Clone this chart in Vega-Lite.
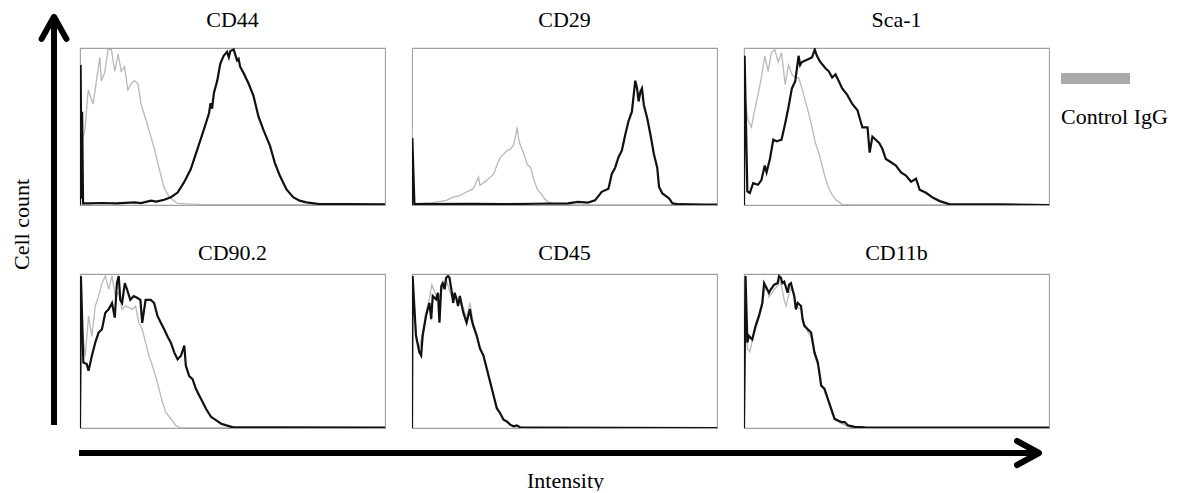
{
"$schema": "https://vega.github.io/schema/vega-lite/v6.json",
"background": "white",
"padding": {"left": 10, "top": 7, "right": 0, "bottom": 0},
"config": {
  "view": {"stroke": "#a0a0a0", "strokeWidth": 1.1},
  "font": "Liberation Serif",
  "title": {"font": "Liberation Serif", "fontSize": 22, "fontWeight": "normal", "color": "#000", "baseline": "alphabetic", "anchor": "middle"},
  "axis": {"titleFont": "Liberation Serif", "titleFontSize": 22, "titleFontWeight": "normal", "titleColor": "#000"}
},
"datasets": {
"hist": [
{"p":"CD44","s":"ctrl","x":0,"y":0},{"p":"CD44","s":"ctrl","x":0.5,"y":40},{"p":"CD44","s":"ctrl","x":1.6,"y":48},{"p":"CD44","s":"ctrl","x":2.7,"y":74},{"p":"CD44","s":"ctrl","x":4.3,"y":65},{"p":"CD44","s":"ctrl","x":5.4,"y":80},{"p":"CD44","s":"ctrl","x":6.5,"y":95},{"p":"CD44","s":"ctrl","x":7.0,"y":80},{"p":"CD44","s":"ctrl","x":8.1,"y":85},{"p":"CD44","s":"ctrl","x":9.2,"y":100},{"p":"CD44","s":"ctrl","x":10.3,"y":100},{"p":"CD44","s":"ctrl","x":11.4,"y":86},{"p":"CD44","s":"ctrl","x":12.5,"y":97},{"p":"CD44","s":"ctrl","x":13.5,"y":86},{"p":"CD44","s":"ctrl","x":14.6,"y":89},{"p":"CD44","s":"ctrl","x":15.7,"y":74},{"p":"CD44","s":"ctrl","x":16.8,"y":78},{"p":"CD44","s":"ctrl","x":17.9,"y":80},{"p":"CD44","s":"ctrl","x":19.0,"y":78},{"p":"CD44","s":"ctrl","x":20.0,"y":65},{"p":"CD44","s":"ctrl","x":22.2,"y":51},{"p":"CD44","s":"ctrl","x":24.4,"y":36},{"p":"CD44","s":"ctrl","x":26.0,"y":23},{"p":"CD44","s":"ctrl","x":27.6,"y":11},{"p":"CD44","s":"ctrl","x":29.3,"y":5},{"p":"CD44","s":"ctrl","x":32.0,"y":1},{"p":"CD44","s":"ctrl","x":40,"y":0.3},{"p":"CD44","s":"ctrl","x":60,"y":0.2},{"p":"CD44","s":"ctrl","x":100,"y":0.2},
{"p":"CD44","s":"ab","x":0,"y":0},{"p":"CD44","s":"ab","x":0.2,"y":90},{"p":"CD44","s":"ab","x":0.5,"y":4},{"p":"CD44","s":"ab","x":0.7,"y":60},{"p":"CD44","s":"ab","x":1.0,"y":1},{"p":"CD44","s":"ab","x":3,"y":1},{"p":"CD44","s":"ab","x":7.0,"y":1.3},{"p":"CD44","s":"ab","x":12,"y":1.0},{"p":"CD44","s":"ab","x":17.9,"y":1.7},{"p":"CD44","s":"ab","x":20,"y":1.2},{"p":"CD44","s":"ab","x":23.3,"y":2.8},{"p":"CD44","s":"ab","x":25,"y":2.2},{"p":"CD44","s":"ab","x":27.6,"y":3.4},{"p":"CD44","s":"ab","x":29.8,"y":5},{"p":"CD44","s":"ab","x":32.0,"y":8},{"p":"CD44","s":"ab","x":34.1,"y":14.5},{"p":"CD44","s":"ab","x":36.3,"y":23},{"p":"CD44","s":"ab","x":38.5,"y":36},{"p":"CD44","s":"ab","x":40.6,"y":48.5},{"p":"CD44","s":"ab","x":42.3,"y":59},{"p":"CD44","s":"ab","x":42.8,"y":65.5},{"p":"CD44","s":"ab","x":43.3,"y":62},{"p":"CD44","s":"ab","x":43.9,"y":72},{"p":"CD44","s":"ab","x":45.0,"y":80},{"p":"CD44","s":"ab","x":46.0,"y":91},{"p":"CD44","s":"ab","x":47.1,"y":96},{"p":"CD44","s":"ab","x":48.2,"y":98.5},{"p":"CD44","s":"ab","x":48.8,"y":95},{"p":"CD44","s":"ab","x":49.3,"y":99},{"p":"CD44","s":"ab","x":50.4,"y":100},{"p":"CD44","s":"ab","x":51.5,"y":93},{"p":"CD44","s":"ab","x":52.0,"y":94},{"p":"CD44","s":"ab","x":52.5,"y":89},{"p":"CD44","s":"ab","x":53.6,"y":85},{"p":"CD44","s":"ab","x":55.3,"y":78},{"p":"CD44","s":"ab","x":56.9,"y":70},{"p":"CD44","s":"ab","x":58.5,"y":57},{"p":"CD44","s":"ab","x":60.1,"y":48.5},{"p":"CD44","s":"ab","x":62.3,"y":38},{"p":"CD44","s":"ab","x":63.9,"y":27},{"p":"CD44","s":"ab","x":65.5,"y":19},{"p":"CD44","s":"ab","x":67.7,"y":10},{"p":"CD44","s":"ab","x":69.9,"y":5},{"p":"CD44","s":"ab","x":72.0,"y":2.8},{"p":"CD44","s":"ab","x":74.2,"y":1.7},{"p":"CD44","s":"ab","x":78.5,"y":0.6},{"p":"CD44","s":"ab","x":88.3,"y":0.5},{"p":"CD44","s":"ab","x":100,"y":0.4},
{"p":"CD29","s":"ctrl","x":0,"y":0},{"p":"CD29","s":"ctrl","x":0.1,"y":50},{"p":"CD29","s":"ctrl","x":0.4,"y":1},{"p":"CD29","s":"ctrl","x":2.4,"y":1},{"p":"CD29","s":"ctrl","x":6.9,"y":1.5},{"p":"CD29","s":"ctrl","x":11.3,"y":3},{"p":"CD29","s":"ctrl","x":13.5,"y":5},{"p":"CD29","s":"ctrl","x":15.7,"y":6},{"p":"CD29","s":"ctrl","x":17.9,"y":8.5},{"p":"CD29","s":"ctrl","x":20.1,"y":10.5},{"p":"CD29","s":"ctrl","x":21.8,"y":18},{"p":"CD29","s":"ctrl","x":22.3,"y":12.7},{"p":"CD29","s":"ctrl","x":24.6,"y":16},{"p":"CD29","s":"ctrl","x":26.8,"y":20},{"p":"CD29","s":"ctrl","x":27.9,"y":26},{"p":"CD29","s":"ctrl","x":29.0,"y":30.7},{"p":"CD29","s":"ctrl","x":30.1,"y":32.8},{"p":"CD29","s":"ctrl","x":31.2,"y":35},{"p":"CD29","s":"ctrl","x":32.3,"y":36},{"p":"CD29","s":"ctrl","x":33.4,"y":39},{"p":"CD29","s":"ctrl","x":34.5,"y":50},{"p":"CD29","s":"ctrl","x":35.1,"y":41},{"p":"CD29","s":"ctrl","x":35.6,"y":38},{"p":"CD29","s":"ctrl","x":36.7,"y":32.8},{"p":"CD29","s":"ctrl","x":37.8,"y":26},{"p":"CD29","s":"ctrl","x":38.9,"y":24},{"p":"CD29","s":"ctrl","x":40.0,"y":16},{"p":"CD29","s":"ctrl","x":41.2,"y":9.5},{"p":"CD29","s":"ctrl","x":42.3,"y":7.4},{"p":"CD29","s":"ctrl","x":43.4,"y":4.2},{"p":"CD29","s":"ctrl","x":44.5,"y":2},{"p":"CD29","s":"ctrl","x":46.7,"y":0.6},{"p":"CD29","s":"ctrl","x":51.1,"y":0.2},{"p":"CD29","s":"ctrl","x":100,"y":0.1},
{"p":"CD29","s":"ab","x":0,"y":0},{"p":"CD29","s":"ab","x":0.1,"y":43},{"p":"CD29","s":"ab","x":0.8,"y":0.5},{"p":"CD29","s":"ab","x":20,"y":0.8},{"p":"CD29","s":"ab","x":30,"y":0.5},{"p":"CD29","s":"ab","x":40,"y":0.8},{"p":"CD29","s":"ab","x":51.1,"y":1},{"p":"CD29","s":"ab","x":54.4,"y":2},{"p":"CD29","s":"ab","x":57.7,"y":1.5},{"p":"CD29","s":"ab","x":60.0,"y":3},{"p":"CD29","s":"ab","x":62.2,"y":8.5},{"p":"CD29","s":"ab","x":64.4,"y":10.5},{"p":"CD29","s":"ab","x":65.5,"y":20},{"p":"CD29","s":"ab","x":66.6,"y":24},{"p":"CD29","s":"ab","x":67.7,"y":30.7},{"p":"CD29","s":"ab","x":68.8,"y":35},{"p":"CD29","s":"ab","x":69.9,"y":45},{"p":"CD29","s":"ab","x":71.0,"y":54},{"p":"CD29","s":"ab","x":72.1,"y":60},{"p":"CD29","s":"ab","x":72.7,"y":71},{"p":"CD29","s":"ab","x":73.2,"y":80},{"p":"CD29","s":"ab","x":73.8,"y":75},{"p":"CD29","s":"ab","x":74.3,"y":66.6},{"p":"CD29","s":"ab","x":74.9,"y":73},{"p":"CD29","s":"ab","x":75.4,"y":75},{"p":"CD29","s":"ab","x":76.0,"y":64.5},{"p":"CD29","s":"ab","x":77.1,"y":56},{"p":"CD29","s":"ab","x":78.2,"y":45},{"p":"CD29","s":"ab","x":79.3,"y":32.8},{"p":"CD29","s":"ab","x":80.4,"y":24},{"p":"CD29","s":"ab","x":81.0,"y":11.6},{"p":"CD29","s":"ab","x":82.1,"y":7.4},{"p":"CD29","s":"ab","x":84.3,"y":4.2},{"p":"CD29","s":"ab","x":85.4,"y":1},{"p":"CD29","s":"ab","x":87.6,"y":0.5},{"p":"CD29","s":"ab","x":95.4,"y":0.3},{"p":"CD29","s":"ab","x":100,"y":0.2},
{"p":"Sca-1","s":"ctrl","x":0,"y":0},{"p":"Sca-1","s":"ctrl","x":0.2,"y":71},{"p":"Sca-1","s":"ctrl","x":1.3,"y":54.6},{"p":"Sca-1","s":"ctrl","x":2.4,"y":50},{"p":"Sca-1","s":"ctrl","x":3.5,"y":61},{"p":"Sca-1","s":"ctrl","x":4.6,"y":71},{"p":"Sca-1","s":"ctrl","x":5.7,"y":82},{"p":"Sca-1","s":"ctrl","x":6.8,"y":96},{"p":"Sca-1","s":"ctrl","x":7.9,"y":86},{"p":"Sca-1","s":"ctrl","x":9.0,"y":98},{"p":"Sca-1","s":"ctrl","x":10.1,"y":100},{"p":"Sca-1","s":"ctrl","x":11.2,"y":92},{"p":"Sca-1","s":"ctrl","x":12.3,"y":98},{"p":"Sca-1","s":"ctrl","x":13.5,"y":77.5},{"p":"Sca-1","s":"ctrl","x":14.6,"y":90},{"p":"Sca-1","s":"ctrl","x":15.7,"y":84},{"p":"Sca-1","s":"ctrl","x":16.8,"y":82},{"p":"Sca-1","s":"ctrl","x":17.9,"y":82},{"p":"Sca-1","s":"ctrl","x":19.0,"y":75},{"p":"Sca-1","s":"ctrl","x":20.1,"y":67},{"p":"Sca-1","s":"ctrl","x":21.2,"y":59},{"p":"Sca-1","s":"ctrl","x":22.3,"y":50},{"p":"Sca-1","s":"ctrl","x":23.4,"y":40},{"p":"Sca-1","s":"ctrl","x":24.5,"y":33.75},{"p":"Sca-1","s":"ctrl","x":25.6,"y":25.4},{"p":"Sca-1","s":"ctrl","x":26.7,"y":17},{"p":"Sca-1","s":"ctrl","x":27.8,"y":10.8},{"p":"Sca-1","s":"ctrl","x":28.9,"y":6.7},{"p":"Sca-1","s":"ctrl","x":30.0,"y":3.5},{"p":"Sca-1","s":"ctrl","x":32.2,"y":0.4},{"p":"Sca-1","s":"ctrl","x":35.5,"y":0},{"p":"Sca-1","s":"ctrl","x":100,"y":0},
{"p":"Sca-1","s":"ab","x":0,"y":0},{"p":"Sca-1","s":"ab","x":0.2,"y":96},{"p":"Sca-1","s":"ab","x":1.1,"y":8.75},{"p":"Sca-1","s":"ab","x":1.9,"y":7.7},{"p":"Sca-1","s":"ab","x":3.0,"y":14},{"p":"Sca-1","s":"ab","x":4.6,"y":13},{"p":"Sca-1","s":"ab","x":5.7,"y":16},{"p":"Sca-1","s":"ab","x":6.8,"y":25.4},{"p":"Sca-1","s":"ab","x":7.4,"y":21},{"p":"Sca-1","s":"ab","x":8.5,"y":29.6},{"p":"Sca-1","s":"ab","x":9.6,"y":42},{"p":"Sca-1","s":"ab","x":10.7,"y":41},{"p":"Sca-1","s":"ab","x":12.3,"y":42},{"p":"Sca-1","s":"ab","x":13.5,"y":52.5},{"p":"Sca-1","s":"ab","x":14.6,"y":63},{"p":"Sca-1","s":"ab","x":15.7,"y":75},{"p":"Sca-1","s":"ab","x":16.8,"y":79.6},{"p":"Sca-1","s":"ab","x":17.9,"y":96},{"p":"Sca-1","s":"ab","x":18.4,"y":90},{"p":"Sca-1","s":"ab","x":19.0,"y":92},{"p":"Sca-1","s":"ab","x":20.1,"y":93},{"p":"Sca-1","s":"ab","x":21.2,"y":94},{"p":"Sca-1","s":"ab","x":22.3,"y":95},{"p":"Sca-1","s":"ab","x":23.2,"y":100},{"p":"Sca-1","s":"ab","x":23.9,"y":96},{"p":"Sca-1","s":"ab","x":25.0,"y":92},{"p":"Sca-1","s":"ab","x":26.7,"y":88},{"p":"Sca-1","s":"ab","x":27.8,"y":86},{"p":"Sca-1","s":"ab","x":28.9,"y":82},{"p":"Sca-1","s":"ab","x":30.0,"y":84},{"p":"Sca-1","s":"ab","x":31.1,"y":79.6},{"p":"Sca-1","s":"ab","x":32.2,"y":75},{"p":"Sca-1","s":"ab","x":33.8,"y":71},{"p":"Sca-1","s":"ab","x":35.5,"y":65},{"p":"Sca-1","s":"ab","x":37.2,"y":61},{"p":"Sca-1","s":"ab","x":38.8,"y":50},{"p":"Sca-1","s":"ab","x":40.5,"y":50},{"p":"Sca-1","s":"ab","x":41.2,"y":33.75},{"p":"Sca-1","s":"ab","x":42.1,"y":44},{"p":"Sca-1","s":"ab","x":43.2,"y":42},{"p":"Sca-1","s":"ab","x":44.3,"y":40},{"p":"Sca-1","s":"ab","x":45.4,"y":36},{"p":"Sca-1","s":"ab","x":46.5,"y":29.6},{"p":"Sca-1","s":"ab","x":48.2,"y":27.5},{"p":"Sca-1","s":"ab","x":49.8,"y":25.4},{"p":"Sca-1","s":"ab","x":51.5,"y":21},{"p":"Sca-1","s":"ab","x":53.1,"y":19},{"p":"Sca-1","s":"ab","x":54.8,"y":15},{"p":"Sca-1","s":"ab","x":56.4,"y":17},{"p":"Sca-1","s":"ab","x":57.6,"y":9.8},{"p":"Sca-1","s":"ab","x":59.8,"y":7.7},{"p":"Sca-1","s":"ab","x":62.0,"y":4.6},{"p":"Sca-1","s":"ab","x":64.2,"y":2.5},{"p":"Sca-1","s":"ab","x":67.5,"y":0.4},{"p":"Sca-1","s":"ab","x":73.0,"y":0.4},{"p":"Sca-1","s":"ab","x":84.0,"y":0.4},{"p":"Sca-1","s":"ab","x":100,"y":0},
{"p":"CD90.2","s":"ctrl","x":0,"y":0},{"p":"CD90.2","s":"ctrl","x":0.6,"y":69},{"p":"CD90.2","s":"ctrl","x":1.7,"y":47},{"p":"CD90.2","s":"ctrl","x":2.8,"y":73.5},{"p":"CD90.2","s":"ctrl","x":3.9,"y":60},{"p":"CD90.2","s":"ctrl","x":5.0,"y":80},{"p":"CD90.2","s":"ctrl","x":6.1,"y":86.5},{"p":"CD90.2","s":"ctrl","x":7.2,"y":95},{"p":"CD90.2","s":"ctrl","x":8.3,"y":99.6},{"p":"CD90.2","s":"ctrl","x":9.4,"y":91},{"p":"CD90.2","s":"ctrl","x":10.5,"y":99.6},{"p":"CD90.2","s":"ctrl","x":11.6,"y":86.5},{"p":"CD90.2","s":"ctrl","x":12.7,"y":88.7},{"p":"CD90.2","s":"ctrl","x":13.8,"y":77.8},{"p":"CD90.2","s":"ctrl","x":14.9,"y":80},{"p":"CD90.2","s":"ctrl","x":16.0,"y":79},{"p":"CD90.2","s":"ctrl","x":17.1,"y":77.8},{"p":"CD90.2","s":"ctrl","x":18.2,"y":80},{"p":"CD90.2","s":"ctrl","x":19.3,"y":69},{"p":"CD90.2","s":"ctrl","x":20.4,"y":64.8},{"p":"CD90.2","s":"ctrl","x":21.5,"y":56},{"p":"CD90.2","s":"ctrl","x":22.6,"y":47.4},{"p":"CD90.2","s":"ctrl","x":23.7,"y":41},{"p":"CD90.2","s":"ctrl","x":24.8,"y":34},{"p":"CD90.2","s":"ctrl","x":25.9,"y":25.7},{"p":"CD90.2","s":"ctrl","x":27.0,"y":17},{"p":"CD90.2","s":"ctrl","x":28.1,"y":10.4},{"p":"CD90.2","s":"ctrl","x":29.8,"y":6},{"p":"CD90.2","s":"ctrl","x":31.4,"y":1.7},{"p":"CD90.2","s":"ctrl","x":33.1,"y":0},{"p":"CD90.2","s":"ctrl","x":100,"y":0},
{"p":"CD90.2","s":"ab","x":0,"y":0},{"p":"CD90.2","s":"ab","x":0.3,"y":99.6},{"p":"CD90.2","s":"ab","x":1.1,"y":43},{"p":"CD90.2","s":"ab","x":2.2,"y":42},{"p":"CD90.2","s":"ab","x":2.8,"y":37.6},{"p":"CD90.2","s":"ab","x":3.9,"y":47.4},{"p":"CD90.2","s":"ab","x":5.0,"y":56},{"p":"CD90.2","s":"ab","x":6.1,"y":62.6},{"p":"CD90.2","s":"ab","x":7.2,"y":64.8},{"p":"CD90.2","s":"ab","x":8.3,"y":75.6},{"p":"CD90.2","s":"ab","x":9.4,"y":77.8},{"p":"CD90.2","s":"ab","x":10.5,"y":82},{"p":"CD90.2","s":"ab","x":11.4,"y":72.4},{"p":"CD90.2","s":"ab","x":12.1,"y":95},{"p":"CD90.2","s":"ab","x":12.7,"y":99.6},{"p":"CD90.2","s":"ab","x":13.2,"y":84},{"p":"CD90.2","s":"ab","x":13.8,"y":82},{"p":"CD90.2","s":"ab","x":14.7,"y":95},{"p":"CD90.2","s":"ab","x":15.4,"y":91},{"p":"CD90.2","s":"ab","x":16.5,"y":84},{"p":"CD90.2","s":"ab","x":17.6,"y":86.5},{"p":"CD90.2","s":"ab","x":18.7,"y":85.4},{"p":"CD90.2","s":"ab","x":19.8,"y":84},{"p":"CD90.2","s":"ab","x":20.4,"y":69},{"p":"CD90.2","s":"ab","x":21.5,"y":84},{"p":"CD90.2","s":"ab","x":23.2,"y":84},{"p":"CD90.2","s":"ab","x":24.3,"y":82},{"p":"CD90.2","s":"ab","x":25.4,"y":73.5},{"p":"CD90.2","s":"ab","x":26.5,"y":69},{"p":"CD90.2","s":"ab","x":27.6,"y":64.8},{"p":"CD90.2","s":"ab","x":28.7,"y":60},{"p":"CD90.2","s":"ab","x":29.8,"y":56},{"p":"CD90.2","s":"ab","x":30.9,"y":49.6},{"p":"CD90.2","s":"ab","x":32.0,"y":45},{"p":"CD90.2","s":"ab","x":33.1,"y":47.4},{"p":"CD90.2","s":"ab","x":34.2,"y":54},{"p":"CD90.2","s":"ab","x":34.7,"y":41},{"p":"CD90.2","s":"ab","x":35.8,"y":34},{"p":"CD90.2","s":"ab","x":36.9,"y":32},{"p":"CD90.2","s":"ab","x":38.0,"y":25.7},{"p":"CD90.2","s":"ab","x":39.1,"y":21.3},{"p":"CD90.2","s":"ab","x":40.2,"y":17},{"p":"CD90.2","s":"ab","x":41.3,"y":12.6},{"p":"CD90.2","s":"ab","x":43.0,"y":7.2},{"p":"CD90.2","s":"ab","x":44.7,"y":5},{"p":"CD90.2","s":"ab","x":46.3,"y":2.8},{"p":"CD90.2","s":"ab","x":48.0,"y":1.7},{"p":"CD90.2","s":"ab","x":50.2,"y":0.4},{"p":"CD90.2","s":"ab","x":61.2,"y":0.4},{"p":"CD90.2","s":"ab","x":100,"y":0.2},
{"p":"CD45","s":"ctrl","x":0,"y":0},{"p":"CD45","s":"ctrl","x":0.2,"y":99},{"p":"CD45","s":"ctrl","x":1.3,"y":62},{"p":"CD45","s":"ctrl","x":2.4,"y":52},{"p":"CD45","s":"ctrl","x":3.5,"y":63},{"p":"CD45","s":"ctrl","x":4.6,"y":76},{"p":"CD45","s":"ctrl","x":5.7,"y":85},{"p":"CD45","s":"ctrl","x":6.5,"y":94},{"p":"CD45","s":"ctrl","x":7.9,"y":87},{"p":"CD45","s":"ctrl","x":9.0,"y":86},{"p":"CD45","s":"ctrl","x":10.1,"y":93},{"p":"CD45","s":"ctrl","x":11.2,"y":97},{"p":"CD45","s":"ctrl","x":12.3,"y":90},{"p":"CD45","s":"ctrl","x":13.5,"y":84},{"p":"CD45","s":"ctrl","x":14.6,"y":86},{"p":"CD45","s":"ctrl","x":15.7,"y":82},{"p":"CD45","s":"ctrl","x":16.8,"y":79},{"p":"CD45","s":"ctrl","x":17.9,"y":72},{"p":"CD45","s":"ctrl","x":19.0,"y":82},{"p":"CD45","s":"ctrl","x":20.1,"y":69},{"p":"CD45","s":"ctrl","x":21.2,"y":62},{"p":"CD45","s":"ctrl","x":22.3,"y":53},{"p":"CD45","s":"ctrl","x":23.4,"y":48},{"p":"CD45","s":"ctrl","x":24.5,"y":40},{"p":"CD45","s":"ctrl","x":25.6,"y":31},{"p":"CD45","s":"ctrl","x":26.7,"y":22},{"p":"CD45","s":"ctrl","x":27.8,"y":14},{"p":"CD45","s":"ctrl","x":28.9,"y":10},{"p":"CD45","s":"ctrl","x":30.0,"y":6},{"p":"CD45","s":"ctrl","x":31.1,"y":4},{"p":"CD45","s":"ctrl","x":32.2,"y":2},{"p":"CD45","s":"ctrl","x":33.3,"y":1},{"p":"CD45","s":"ctrl","x":35.5,"y":0.3},{"p":"CD45","s":"ctrl","x":100,"y":0},
{"p":"CD45","s":"ab","x":0,"y":0},{"p":"CD45","s":"ab","x":0.2,"y":99.6},{"p":"CD45","s":"ab","x":1.3,"y":60.6},{"p":"CD45","s":"ab","x":2.4,"y":49.8},{"p":"CD45","s":"ab","x":3.0,"y":47.6},{"p":"CD45","s":"ab","x":3.5,"y":60.6},{"p":"CD45","s":"ab","x":4.6,"y":73.6},{"p":"CD45","s":"ab","x":5.7,"y":82},{"p":"CD45","s":"ab","x":6.3,"y":71.4},{"p":"CD45","s":"ab","x":6.8,"y":86.6},{"p":"CD45","s":"ab","x":7.9,"y":84.4},{"p":"CD45","s":"ab","x":8.5,"y":88.7},{"p":"CD45","s":"ab","x":9.0,"y":69},{"p":"CD45","s":"ab","x":9.6,"y":93},{"p":"CD45","s":"ab","x":10.1,"y":95},{"p":"CD45","s":"ab","x":10.7,"y":91},{"p":"CD45","s":"ab","x":11.2,"y":98.5},{"p":"CD45","s":"ab","x":11.8,"y":99.6},{"p":"CD45","s":"ab","x":12.3,"y":98.5},{"p":"CD45","s":"ab","x":12.9,"y":91},{"p":"CD45","s":"ab","x":13.5,"y":82},{"p":"CD45","s":"ab","x":14.0,"y":88.7},{"p":"CD45","s":"ab","x":14.6,"y":84.4},{"p":"CD45","s":"ab","x":15.1,"y":80},{"p":"CD45","s":"ab","x":15.7,"y":86.6},{"p":"CD45","s":"ab","x":16.8,"y":75.8},{"p":"CD45","s":"ab","x":17.9,"y":69},{"p":"CD45","s":"ab","x":19.0,"y":78},{"p":"CD45","s":"ab","x":19.5,"y":71.4},{"p":"CD45","s":"ab","x":20.1,"y":67},{"p":"CD45","s":"ab","x":21.2,"y":60.6},{"p":"CD45","s":"ab","x":22.3,"y":52},{"p":"CD45","s":"ab","x":23.4,"y":47.6},{"p":"CD45","s":"ab","x":24.5,"y":39},{"p":"CD45","s":"ab","x":25.6,"y":30.3},{"p":"CD45","s":"ab","x":26.7,"y":21.6},{"p":"CD45","s":"ab","x":27.8,"y":13},{"p":"CD45","s":"ab","x":28.9,"y":9.7},{"p":"CD45","s":"ab","x":30.0,"y":5.4},{"p":"CD45","s":"ab","x":31.1,"y":4.3},{"p":"CD45","s":"ab","x":32.2,"y":2.2},{"p":"CD45","s":"ab","x":33.3,"y":1.1},{"p":"CD45","s":"ab","x":34.4,"y":1.7},{"p":"CD45","s":"ab","x":35.5,"y":0.4},{"p":"CD45","s":"ab","x":39.9,"y":0.2},{"p":"CD45","s":"ab","x":100,"y":0},
{"p":"CD11b","s":"ctrl","x":0,"y":0},{"p":"CD11b","s":"ctrl","x":0.5,"y":95},{"p":"CD11b","s":"ctrl","x":1.1,"y":52},{"p":"CD11b","s":"ctrl","x":1.9,"y":50},{"p":"CD11b","s":"ctrl","x":2.7,"y":57},{"p":"CD11b","s":"ctrl","x":3.8,"y":65},{"p":"CD11b","s":"ctrl","x":4.9,"y":72},{"p":"CD11b","s":"ctrl","x":6.0,"y":80},{"p":"CD11b","s":"ctrl","x":6.6,"y":90},{"p":"CD11b","s":"ctrl","x":7.5,"y":92},{"p":"CD11b","s":"ctrl","x":8.2,"y":86},{"p":"CD11b","s":"ctrl","x":9.3,"y":89},{"p":"CD11b","s":"ctrl","x":9.9,"y":91},{"p":"CD11b","s":"ctrl","x":11.0,"y":93},{"p":"CD11b","s":"ctrl","x":11.8,"y":97},{"p":"CD11b","s":"ctrl","x":12.6,"y":90},{"p":"CD11b","s":"ctrl","x":13.2,"y":84},{"p":"CD11b","s":"ctrl","x":13.8,"y":80},{"p":"CD11b","s":"ctrl","x":14.6,"y":87},{"p":"CD11b","s":"ctrl","x":15.4,"y":92},{"p":"CD11b","s":"ctrl","x":16.0,"y":89},{"p":"CD11b","s":"ctrl","x":17.0,"y":82},{"p":"CD11b","s":"ctrl","x":17.6,"y":79},{"p":"CD11b","s":"ctrl","x":18.7,"y":78},{"p":"CD11b","s":"ctrl","x":19.5,"y":70},{"p":"CD11b","s":"ctrl","x":20.9,"y":63},{"p":"CD11b","s":"ctrl","x":22.0,"y":60},{"p":"CD11b","s":"ctrl","x":23.1,"y":48},{"p":"CD11b","s":"ctrl","x":24.2,"y":41},{"p":"CD11b","s":"ctrl","x":25.3,"y":29},{"p":"CD11b","s":"ctrl","x":26.4,"y":24},{"p":"CD11b","s":"ctrl","x":27.5,"y":18},{"p":"CD11b","s":"ctrl","x":28.6,"y":11},{"p":"CD11b","s":"ctrl","x":29.7,"y":6},{"p":"CD11b","s":"ctrl","x":30.8,"y":4},{"p":"CD11b","s":"ctrl","x":32.0,"y":3},{"p":"CD11b","s":"ctrl","x":33.0,"y":2},{"p":"CD11b","s":"ctrl","x":35,"y":0.5},{"p":"CD11b","s":"ctrl","x":40,"y":0.2},{"p":"CD11b","s":"ctrl","x":100,"y":0},
{"p":"CD11b","s":"ab","x":0,"y":0},{"p":"CD11b","s":"ab","x":0.5,"y":99.6},{"p":"CD11b","s":"ab","x":1.1,"y":56},{"p":"CD11b","s":"ab","x":1.6,"y":60.4},{"p":"CD11b","s":"ab","x":2.7,"y":58},{"p":"CD11b","s":"ab","x":3.8,"y":67},{"p":"CD11b","s":"ab","x":4.9,"y":73.5},{"p":"CD11b","s":"ab","x":6.0,"y":82},{"p":"CD11b","s":"ab","x":6.6,"y":95},{"p":"CD11b","s":"ab","x":7.1,"y":93},{"p":"CD11b","s":"ab","x":8.2,"y":88.7},{"p":"CD11b","s":"ab","x":8.8,"y":91},{"p":"CD11b","s":"ab","x":9.9,"y":94},{"p":"CD11b","s":"ab","x":11.0,"y":95},{"p":"CD11b","s":"ab","x":11.5,"y":99.6},{"p":"CD11b","s":"ab","x":12.1,"y":98.5},{"p":"CD11b","s":"ab","x":12.6,"y":95},{"p":"CD11b","s":"ab","x":13.2,"y":96},{"p":"CD11b","s":"ab","x":14.3,"y":88.7},{"p":"CD11b","s":"ab","x":14.8,"y":94},{"p":"CD11b","s":"ab","x":15.4,"y":95},{"p":"CD11b","s":"ab","x":15.9,"y":91},{"p":"CD11b","s":"ab","x":16.5,"y":86.5},{"p":"CD11b","s":"ab","x":17.0,"y":77.8},{"p":"CD11b","s":"ab","x":17.6,"y":82},{"p":"CD11b","s":"ab","x":18.7,"y":80},{"p":"CD11b","s":"ab","x":19.2,"y":71.3},{"p":"CD11b","s":"ab","x":19.8,"y":67},{"p":"CD11b","s":"ab","x":20.9,"y":64.8},{"p":"CD11b","s":"ab","x":22.0,"y":62.6},{"p":"CD11b","s":"ab","x":23.1,"y":49.6},{"p":"CD11b","s":"ab","x":24.2,"y":43},{"p":"CD11b","s":"ab","x":24.7,"y":36.5},{"p":"CD11b","s":"ab","x":25.3,"y":27.8},{"p":"CD11b","s":"ab","x":26.4,"y":25.7},{"p":"CD11b","s":"ab","x":27.5,"y":19},{"p":"CD11b","s":"ab","x":28.6,"y":12.6},{"p":"CD11b","s":"ab","x":29.7,"y":6},{"p":"CD11b","s":"ab","x":30.8,"y":5},{"p":"CD11b","s":"ab","x":31.9,"y":3.9},{"p":"CD11b","s":"ab","x":33.0,"y":3.9},{"p":"CD11b","s":"ab","x":34.1,"y":1.7},{"p":"CD11b","s":"ab","x":36.3,"y":0.7},{"p":"CD11b","s":"ab","x":39.6,"y":0.4},{"p":"CD11b","s":"ab","x":100,"y":0.2}
]
},
"vconcat": [
 {"hconcat": [
   {"width": 40, "height": 380, "view": {"stroke": null},
    "data": {"values": [
      {"part": "shaft", "i": 0, "x": 0, "y": 0.8},
      {"part": "shaft", "i": 1, "x": 0, "y": 107.4},
      {"part": "head", "i": 0, "x": -0.62, "y": 102.4},
      {"part": "head", "i": 1, "x": 0, "y": 108.2},
      {"part": "head", "i": 2, "x": 0.62, "y": 102.4}
    ]},
    "encoding": {
      "x": {"field": "x", "type": "quantitative", "scale": {"domain": [-1, 1], "nice": false}, "axis": null},
      "y": {"field": "y", "type": "quantitative", "scale": {"domain": [0, 100], "nice": false},
            "axis": {"title": "Cell count", "domain": false, "ticks": false, "labels": false, "grid": false, "titlePadding": 1, "titleY": 176}},
      "order": {"field": "i", "type": "quantitative"}
    },
    "layer": [
      {"transform": [{"filter": "datum.part==='shaft'"}], "mark": {"type": "line", "color": "#000", "strokeWidth": 6, "strokeCap": "butt"}},
      {"transform": [{"filter": "datum.part==='head'"}], "mark": {"type": "line", "color": "#000", "strokeWidth": 6, "strokeCap": "round", "strokeJoin": "round"}}
    ]
   },
   {"vconcat": [
     {"hconcat": [
       {"width": 305, "height": 157, "title": {"text": "CD44", "offset": 16}, "data": {"name": "hist"},
        "transform": [{"filter": "datum.p==='CD44'"}],
        "encoding": {"x": {"field": "x", "type": "quantitative", "scale": {"domain": [0, 100], "nice": false, "zero": false}, "axis": null},
                     "y": {"field": "y", "type": "quantitative", "scale": {"domain": [0, 101], "nice": false}, "axis": null}},
        "layer": [
          {"transform": [{"filter": "datum.s==='ctrl'"}], "mark": {"type": "line", "color": "#b8b8b8", "strokeWidth": 1.3, "clip": true}},
          {"transform": [{"filter": "datum.s==='ab'"}], "mark": {"type": "line", "color": "#111", "strokeWidth": 2.2, "clip": true}}
        ]},
       {"width": 305, "height": 157, "title": {"text": "CD29", "offset": 16}, "data": {"name": "hist"},
        "transform": [{"filter": "datum.p==='CD29'"}],
        "encoding": {"x": {"field": "x", "type": "quantitative", "scale": {"domain": [0, 100], "nice": false, "zero": false}, "axis": null},
                     "y": {"field": "y", "type": "quantitative", "scale": {"domain": [0, 101], "nice": false}, "axis": null}},
        "layer": [
          {"transform": [{"filter": "datum.s==='ctrl'"}], "mark": {"type": "line", "color": "#b8b8b8", "strokeWidth": 1.3, "clip": true}},
          {"transform": [{"filter": "datum.s==='ab'"}], "mark": {"type": "line", "color": "#111", "strokeWidth": 2.2, "clip": true}}
        ]},
       {"width": 305, "height": 157, "title": {"text": "Sca-1", "offset": 16}, "data": {"name": "hist"},
        "transform": [{"filter": "datum.p==='Sca-1'"}],
        "encoding": {"x": {"field": "x", "type": "quantitative", "scale": {"domain": [0, 100], "nice": false, "zero": false}, "axis": null},
                     "y": {"field": "y", "type": "quantitative", "scale": {"domain": [0, 101], "nice": false}, "axis": null}},
        "layer": [
          {"transform": [{"filter": "datum.s==='ctrl'"}], "mark": {"type": "line", "color": "#b8b8b8", "strokeWidth": 1.3, "clip": true}},
          {"transform": [{"filter": "datum.s==='ab'"}], "mark": {"type": "line", "color": "#111", "strokeWidth": 2.2, "clip": true}}
        ]}
     ], "spacing": 25},
     {"hconcat": [
       {"width": 305, "height": 154, "title": {"text": "CD90.2", "offset": 9}, "data": {"name": "hist"},
        "transform": [{"filter": "datum.p==='CD90.2'"}],
        "encoding": {"x": {"field": "x", "type": "quantitative", "scale": {"domain": [0, 100], "nice": false, "zero": false}, "axis": null},
                     "y": {"field": "y", "type": "quantitative", "scale": {"domain": [0, 101], "nice": false}, "axis": null}},
        "layer": [
          {"transform": [{"filter": "datum.s==='ctrl'"}], "mark": {"type": "line", "color": "#b8b8b8", "strokeWidth": 1.3, "clip": true}},
          {"transform": [{"filter": "datum.s==='ab'"}], "mark": {"type": "line", "color": "#111", "strokeWidth": 2.2, "clip": true}}
        ]},
       {"width": 305, "height": 154, "title": {"text": "CD45", "offset": 9}, "data": {"name": "hist"},
        "transform": [{"filter": "datum.p==='CD45'"}],
        "encoding": {"x": {"field": "x", "type": "quantitative", "scale": {"domain": [0, 100], "nice": false, "zero": false}, "axis": null},
                     "y": {"field": "y", "type": "quantitative", "scale": {"domain": [0, 101], "nice": false}, "axis": null}},
        "layer": [
          {"transform": [{"filter": "datum.s==='ctrl'"}], "mark": {"type": "line", "color": "#b8b8b8", "strokeWidth": 1.3, "clip": true}},
          {"transform": [{"filter": "datum.s==='ab'"}], "mark": {"type": "line", "color": "#111", "strokeWidth": 2.2, "clip": true}}
        ]},
       {"width": 305, "height": 154, "title": {"text": "CD11b", "offset": 9}, "data": {"name": "hist"},
        "transform": [{"filter": "datum.p==='CD11b'"}],
        "encoding": {"x": {"field": "x", "type": "quantitative", "scale": {"domain": [0, 100], "nice": false, "zero": false}, "axis": null},
                     "y": {"field": "y", "type": "quantitative", "scale": {"domain": [0, 101], "nice": false}, "axis": null}},
        "layer": [
          {"transform": [{"filter": "datum.s==='ctrl'"}], "mark": {"type": "line", "color": "#b8b8b8", "strokeWidth": 1.3, "clip": true}},
          {"transform": [{"filter": "datum.s==='ab'"}], "mark": {"type": "line", "color": "#111", "strokeWidth": 2.2, "clip": true}}
        ]}
     ], "spacing": 25}
   ], "spacing": 35},
   {"width": 122, "height": 90, "view": {"stroke": null},
    "data": {"values": [{"item": "Control IgG"}]},
    "layer": [
      {"mark": {"type": "rule", "color": "#aaaaaa", "strokeWidth": 11, "strokeCap": "butt"},
       "encoding": {
         "x": {"datum": 5, "type": "quantitative", "scale": {"domain": [0, 122], "nice": false}, "axis": null},
         "x2": {"datum": 74},
         "y": {"datum": 30.5, "type": "quantitative", "scale": {"domain": [0, 90], "nice": false, "reverse": true}, "axis": null}
       }},
      {"mark": {"type": "text", "align": "left", "baseline": "alphabetic", "font": "Liberation Serif", "fontSize": 22, "color": "#000"},
       "encoding": {
         "text": {"field": "item"},
         "x": {"datum": 5, "type": "quantitative"},
         "y": {"datum": 76, "type": "quantitative"}
       }}
    ]
   }
 ], "spacing": 5},
 {"width": 1062, "height": 30, "view": {"stroke": null},
  "data": {"values": [
    {"part": "shaft", "x": 4.24, "y": 0},
    {"part": "shaft", "x": 94.2, "y": 0},
    {"part": "head", "x": 92.56, "y": 0.8},
    {"part": "head", "x": 94.63, "y": 0},
    {"part": "head", "x": 92.56, "y": -0.8}
  ]},
  "encoding": {
    "x": {"field": "x", "type": "quantitative", "scale": {"domain": [0, 100], "nice": false}, "axis": {"title": "Intensity", "domain": false, "ticks": false, "labels": false, "grid": false, "titlePadding": 2}},
    "y": {"field": "y", "type": "quantitative", "scale": {"domain": [-1, 1], "nice": false}, "axis": null}
  },
  "layer": [
    {"transform": [{"filter": "datum.part==='shaft'"}], "mark": {"type": "line", "color": "#000", "strokeWidth": 6, "strokeCap": "butt"}},
    {"transform": [{"filter": "datum.part==='head'"}], "mark": {"type": "line", "color": "#000", "strokeWidth": 6, "strokeCap": "round", "strokeJoin": "round"}, "encoding": {"order": {"field": "y", "type": "quantitative"}}}
  ]
 }
], "spacing": 0
}
